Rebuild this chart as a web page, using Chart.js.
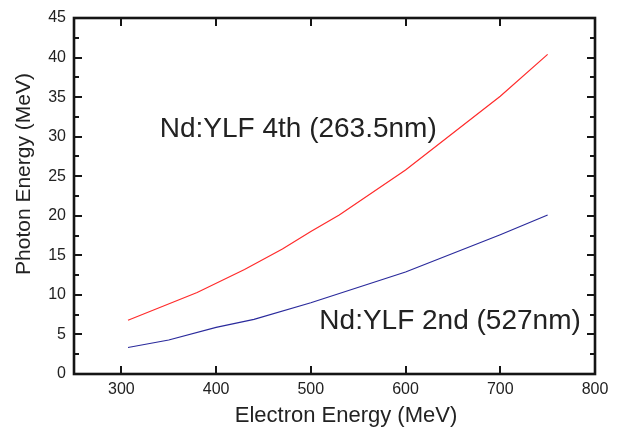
<!DOCTYPE html>
<html>
<head>
<meta charset="utf-8">
<script src="https://cdn.jsdelivr.net/npm/chart.js@4"></script>
<style>
html,body{margin:0;padding:0;background:#fff;}
#wrap{width:621px;height:429px;position:relative;}
</style>
</head>
<body>
<div id="wrap"><canvas id="c" width="621" height="429"></canvas></div>
<script>
// Data
const energy4th = [307, 380, 430, 470, 500, 530, 600, 700, 750];
const photon4th = [6.8, 10.3, 13.2, 15.8, 18.0, 20.1, 25.8, 35.1, 40.4];
const energy2nd = [307, 350, 400, 440, 500, 600, 700, 750];
const photon2nd = [3.35, 4.3, 5.9, 6.9, 9.0, 12.9, 17.6, 20.1];
const label4th = "Nd:YLF 4th (263.5nm)";
const label2nd = "Nd:YLF 2nd (527nm)";
const xTickLabels = [300, 400, 500, 600, 700, 800];
const yTickLabels = [0, 5, 10, 15, 20, 25, 30, 35, 40, 45];
const xTitle = "Electron Energy (MeV)";
const yTitle = "Photon Energy (MeV)";

const FONT = "'Liberation Sans', Arial, Helvetica, sans-serif";
const TXT = "#222222";

const framePlugin = {
  id: 'frame',
  afterDraw(chart) {
    const ctx = chart.ctx;
    const a = chart.chartArea;
    const xs = chart.scales.x, ys = chart.scales.y;
    ctx.save();
    ctx.strokeStyle = "#151515";
    // ticks
    ctx.lineWidth = 2;
    const xMajor = xTickLabels, xMinor = [];
    for (let v = 250; v < 800; v += 100) xMinor.push(v + 100 - 50);
    const yMinor = [];
    for (let v = 2.5; v < 45; v += 5) yMinor.push(v);
    const tk = (list, len) => {
      list.forEach(v => {
        const px = Math.round(xs.getPixelForValue(v));
        ctx.beginPath();
        ctx.moveTo(px, a.bottom); ctx.lineTo(px, a.bottom - len);
        ctx.moveTo(px, a.top); ctx.lineTo(px, a.top + len);
        ctx.stroke();
      });
    };
    const tky = (list, len) => {
      list.forEach(v => {
        const py = Math.round(ys.getPixelForValue(v));
        ctx.beginPath();
        ctx.moveTo(a.left, py); ctx.lineTo(a.left + len, py);
        ctx.moveTo(a.right, py); ctx.lineTo(a.right - len, py);
        ctx.stroke();
      });
    };
    tk(xMajor, 8); tk(xMinor.filter(v => v < 800), 5);
    tky(yTickLabels, 8); tky(yMinor, 5);
    // frame
    ctx.lineWidth = 2.6;
    ctx.strokeRect(a.left, a.top, a.right - a.left, a.bottom - a.top);
    // annotations
    ctx.fillStyle = TXT;
    ctx.font = "28px " + FONT;
    ctx.textAlign = "left";
    ctx.textBaseline = "alphabetic";
    ctx.fillText(label4th, xs.getPixelForValue(340.5), ys.getPixelForValue(29.95));
    ctx.fillText(label2nd, xs.getPixelForValue(509), ys.getPixelForValue(5.65));
    // axis titles
    ctx.font = "22px " + FONT;
    ctx.textAlign = "center";
    ctx.fillText(xTitle, 346, 422);
    ctx.save();
    ctx.translate(30, 174);
    ctx.rotate(-Math.PI / 2);
    ctx.font = "21px " + FONT;
    ctx.fillText(yTitle, 0, 0);
    ctx.restore();
    ctx.restore();
  }
};

new Chart(document.getElementById('c'), {
  type: 'scatter',
  data: {
    datasets: [
      {
        label: label4th,
        data: energy4th.map((x, i) => ({x: x, y: photon4th[i]})),
        showLine: true, borderColor: '#ff2b2b', borderWidth: 1.2,
        pointRadius: 0, tension: 0, fill: false
      },
      {
        label: label2nd,
        data: energy2nd.map((x, i) => ({x: x, y: photon2nd[i]})),
        showLine: true, borderColor: '#2a2a9c', borderWidth: 1.2,
        pointRadius: 0, tension: 0, fill: false
      }
    ]
  },
  options: {
    responsive: false,
    animation: false,
    devicePixelRatio: 1,
    layout: { padding: { top: 18, right: 26, left: 0, bottom: 0 } },
    plugins: { legend: { display: false }, tooltip: { enabled: false }, title: { display: false } },
    scales: {
      x: {
        type: 'linear', min: 250, max: 800,
        grid: { display: false, drawTicks: false },
        border: { display: false },
        afterBuildTicks: s => { s.ticks = xTickLabels.map(v => ({value: v})); },
        afterFit: s => { s.height = 55; },
        ticks: { color: TXT, font: { family: FONT, size: 16 }, padding: 6, maxRotation: 0, autoSkip: false }
      },
      y: {
        type: 'linear', min: 0, max: 45,
        grid: { display: false, drawTicks: false },
        border: { display: false },
        afterBuildTicks: s => { s.ticks = yTickLabels.map(v => ({value: v})); },
        afterFit: s => { s.width = 74; },
        ticks: { color: TXT, font: { family: FONT, size: 16 }, padding: 8, autoSkip: false }
      }
    }
  },
  plugins: [framePlugin]
});
</script>
</body>
</html>
